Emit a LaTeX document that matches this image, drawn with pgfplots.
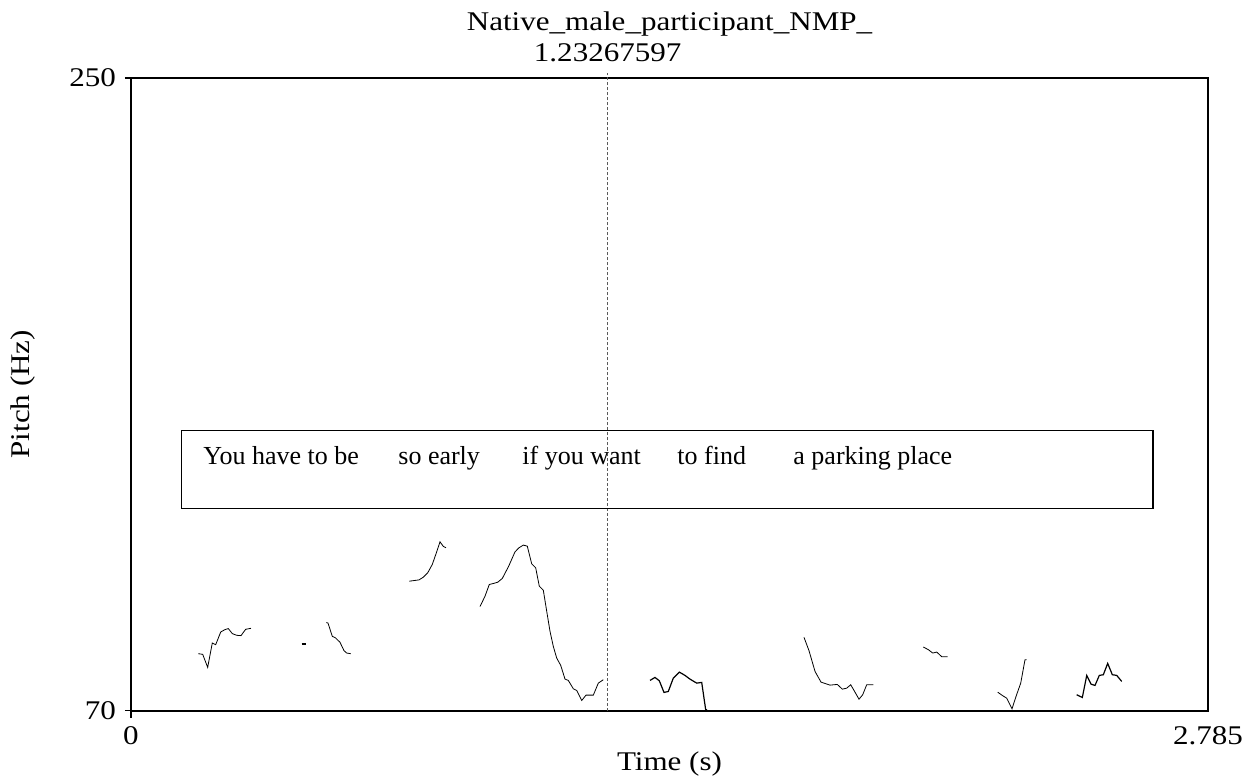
\documentclass[border=0pt]{standalone}
\usepackage{fontspec}
\setmainfont{Liberation Serif}
\usepackage{graphicx}
\usepackage{pgfplots}
\pgfplotsset{compat=1.18}
\newcommand{\wide}[1]{\scalebox{1.15}[1]{#1}}
\begin{document}
\fontsize{13pt}{15pt}\selectfont
\begin{tikzpicture}
\begin{axis}[name=ax, scale only axis, width=538.5pt, height=316.25pt,
  xmin=0, xmax=2.785, ymin=70, ymax=250,
  axis line style={line width=1pt},
  tick pos=left, tick align=outside, major tick length=3pt,
  xtick={0,2.785}, xticklabels={\wide{0},\wide{2.785}},
  ytick={70,250}, yticklabels={\wide{70},\wide{250}},
  xtick style={draw=none},
  ytick style={line width=0.8pt, black},
  tick label style={font=\fontsize{13.5pt}{15pt}\selectfont},
  xticklabel style={yshift=-0.5pt},
  yticklabel style={xshift=0pt},
  clip=false,
  cycle list={{black, line width=0.6pt, mark=none, solid}},
]
% cursor
\draw[gray!70!black, line width=0.4pt, dash pattern=on 1.5pt off 1pt]
  (axis cs:1.23267597,70) -- ([yshift=2.5pt]axis cs:1.23267597,250);
\node[anchor=base, font=\fontsize{13.5pt}{15pt}\selectfont] at ([yshift=8pt]axis cs:1.23267597,250) {\wide{1.23267597}};
% text box
\draw[line width=0.75pt] (axis cs:0.1311,127.54) rectangle (axis cs:2.6428,149.63);
\node[anchor=base west, inner sep=0pt] at (axis cs:0.1862,139.87) {You have to be};
\node[anchor=base west, inner sep=0pt] at (axis cs:0.6904,139.87) {so early};
\node[anchor=base west, inner sep=0pt] at (axis cs:1.0111,139.87) {if you want};
\node[anchor=base west, inner sep=0pt] at (axis cs:1.4119,139.87) {to find};
\node[anchor=base west, inner sep=0pt] at (axis cs:1.7119,139.87) {a parking place};

% pitch contours
\addplot coordinates {(0.1740,86.17) (0.1854,85.98) (0.1983,82.27) (0.2102,89.20) (0.2190,88.74) (0.2320,92.34) (0.2431,93.02) (0.2516,93.31) (0.2620,91.88) (0.2733,91.40) (0.2844,91.31) (0.2966,93.11) (0.3103,93.39)};
\addplot coordinates {(0.4414,88.91) (0.4518,88.91)};
\addplot coordinates {(0.5050,95.02) (0.5094,94.90) (0.5205,91.11) (0.5293,90.63) (0.5405,89.40) (0.5508,87.03) (0.5578,86.35) (0.5681,86.17)};
\addplot coordinates {(0.7197,106.80) (0.7447,107.17) (0.7559,107.94) (0.7672,109.17) (0.7791,111.56) (0.7905,115.16) (0.7990,118.01) (0.8076,116.70) (0.8146,116.30)};
\addplot coordinates {(0.9025,99.58) (0.9154,102.52) (0.9265,105.86) (0.9369,106.14) (0.9483,106.51) (0.9601,107.57) (0.9767,111.08) (0.9930,115.16) (1.0033,116.30) (1.0145,117.07) (1.0248,116.78) (1.0362,111.73) (1.0465,110.59) (1.0558,105.37) (1.0662,104.23) (1.0750,98.24) (1.0835,92.54) (1.0920,88.26) (1.1008,84.92) (1.1112,82.84) (1.1223,78.93) (1.1308,78.56) (1.1438,76.19) (1.1525,75.71) (1.1655,72.85) (1.1766,74.37) (1.1955,74.37) (1.2084,77.79) (1.2213,78.76)};
\addplot coordinates {(1.3421,78.56) (1.3550,79.41) (1.3661,78.47) (1.3783,75.14) (1.3894,75.42) (1.4023,79.21) (1.4179,80.93) (1.4326,79.99) (1.4455,78.93) (1.4629,77.79) (1.4758,77.99) (1.4861,70.20) (1.4895,70.20)};
\addplot coordinates {(1.7403,90.82) (1.7532,87.03) (1.7688,81.13) (1.7843,78.07) (1.8075,77.22) (1.8264,77.42) (1.8394,76.08) (1.8507,76.36) (1.8611,77.33) (1.8722,75.22) (1.8825,73.22) (1.8921,74.48) (1.9024,77.33) (1.9195,77.33)};
\addplot coordinates {(2.0488,88.06) (2.0618,87.32) (2.0731,86.35) (2.0835,86.63) (2.0964,85.32) (2.1119,85.32)};
\addplot coordinates {(2.2412,75.22) (2.2531,74.28) (2.2645,73.51) (2.2782,70.49) (2.2885,73.99) (2.3007,77.79) (2.3118,84.46) (2.3162,84.46)};
\addplot coordinates {(2.4455,74.48) (2.4600,73.71) (2.4714,79.99) (2.4825,77.50) (2.4928,77.13) (2.5039,79.99) (2.5143,80.18) (2.5256,83.41) (2.5376,80.18) (2.5490,79.99) (2.5619,78.27)};
\end{axis}
\draw[line width=1pt] (ax.south west) -- ++(0,-3.5pt);
\node[anchor=base, font=\fontsize{13.5pt}{15pt}\selectfont] at ([yshift=23.5pt]ax.north) {\wide{Native\_male\_participant\_NMP\_}};
\node[anchor=base, font=\fontsize{13.5pt}{15pt}\selectfont] at ([yshift=-29.75pt]ax.south) {\wide{Time (s)}};
\node[rotate=90, font=\fontsize{13.5pt}{15pt}\selectfont] at ([xshift=-54pt]ax.west) {\wide{Pitch (Hz)}};
\pgfresetboundingbox
\path[use as bounding box] ([xshift=-65.5pt,yshift=-33.75pt]ax.south west) rectangle ++(624.5pt,389pt);
\end{tikzpicture}
\end{document}
